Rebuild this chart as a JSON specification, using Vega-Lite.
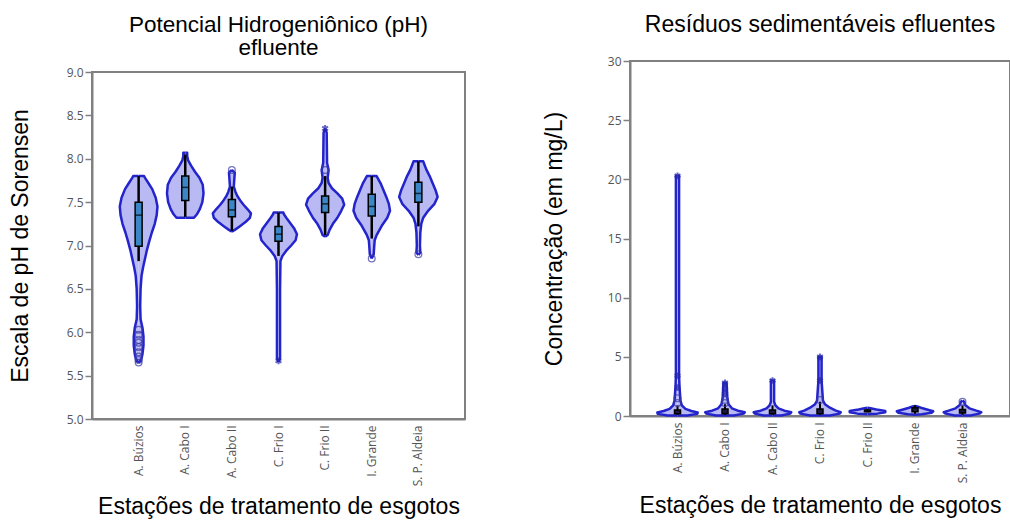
{
  "$schema": "https://vega.github.io/schema/vega-lite/v6.json",
  "background": "white",
  "padding": {"top": 13, "left": 8, "right": 0, "bottom": 0},
  "align": "none",
  "spacing": 76,
  "config": {
    "view": {"stroke": "#808080", "strokeWidth": 2},
    "font": "Liberation Sans",
    "axis": {"labelFont": "Open Sans", "labelColor": "#555555", "labelFontSize": 12, "titleFont": "Liberation Sans", "titleFontSize": 23, "titleFontWeight": "normal", "titleColor": "#000000", "domainColor": "#808080", "domainWidth": 2, "tickColor": "#808080", "tickWidth": 1.5, "grid": false},
    "title": {"font": "Liberation Sans", "fontSize": 23, "fontWeight": "normal", "color": "#000000"}
  },
  "datasets": {
    "ph_violin": [
      {"estacao": "A. Búzios", "k": 0, "ph": 5.65, "dens": 0},
      {"estacao": "A. Búzios", "k": 1, "ph": 5.68, "dens": 0.13},
      {"estacao": "A. Búzios", "k": 2, "ph": 5.75, "dens": 0.2},
      {"estacao": "A. Búzios", "k": 3, "ph": 5.85, "dens": 0.25},
      {"estacao": "A. Búzios", "k": 4, "ph": 5.95, "dens": 0.25},
      {"estacao": "A. Búzios", "k": 5, "ph": 6.05, "dens": 0.2},
      {"estacao": "A. Búzios", "k": 6, "ph": 6.15, "dens": 0.1},
      {"estacao": "A. Búzios", "k": 7, "ph": 6.3, "dens": 0.08},
      {"estacao": "A. Búzios", "k": 8, "ph": 6.5, "dens": 0.1},
      {"estacao": "A. Búzios", "k": 9, "ph": 6.65, "dens": 0.15},
      {"estacao": "A. Búzios", "k": 10, "ph": 6.75, "dens": 0.23},
      {"estacao": "A. Búzios", "k": 11, "ph": 6.85, "dens": 0.33},
      {"estacao": "A. Búzios", "k": 12, "ph": 6.95, "dens": 0.43},
      {"estacao": "A. Búzios", "k": 13, "ph": 7.05, "dens": 0.55},
      {"estacao": "A. Búzios", "k": 14, "ph": 7.15, "dens": 0.68},
      {"estacao": "A. Búzios", "k": 15, "ph": 7.25, "dens": 0.83},
      {"estacao": "A. Búzios", "k": 16, "ph": 7.35, "dens": 0.93},
      {"estacao": "A. Búzios", "k": 17, "ph": 7.45, "dens": 0.97},
      {"estacao": "A. Búzios", "k": 18, "ph": 7.55, "dens": 0.88},
      {"estacao": "A. Búzios", "k": 19, "ph": 7.65, "dens": 0.7},
      {"estacao": "A. Búzios", "k": 20, "ph": 7.72, "dens": 0.5},
      {"estacao": "A. Búzios", "k": 21, "ph": 7.78, "dens": 0.33},
      {"estacao": "A. Búzios", "k": 22, "ph": 7.8, "dens": 0.28},
      {"estacao": "A. Búzios", "k": 23, "ph": 7.8, "dens": 0},
      {"estacao": "A. Cabo I", "k": 0, "ph": 7.32, "dens": 0},
      {"estacao": "A. Cabo I", "k": 1, "ph": 7.32, "dens": 0.45},
      {"estacao": "A. Cabo I", "k": 2, "ph": 7.36, "dens": 0.6},
      {"estacao": "A. Cabo I", "k": 3, "ph": 7.42, "dens": 0.75},
      {"estacao": "A. Cabo I", "k": 4, "ph": 7.5, "dens": 0.88},
      {"estacao": "A. Cabo I", "k": 5, "ph": 7.6, "dens": 0.94},
      {"estacao": "A. Cabo I", "k": 6, "ph": 7.7, "dens": 0.9},
      {"estacao": "A. Cabo I", "k": 7, "ph": 7.78, "dens": 0.73},
      {"estacao": "A. Cabo I", "k": 8, "ph": 7.85, "dens": 0.5},
      {"estacao": "A. Cabo I", "k": 9, "ph": 7.92, "dens": 0.3},
      {"estacao": "A. Cabo I", "k": 10, "ph": 7.98, "dens": 0.15},
      {"estacao": "A. Cabo I", "k": 11, "ph": 8.03, "dens": 0.1},
      {"estacao": "A. Cabo I", "k": 12, "ph": 8.07, "dens": 0.1},
      {"estacao": "A. Cabo I", "k": 13, "ph": 8.07, "dens": 0},
      {"estacao": "A. Cabo II", "k": 0, "ph": 7.16, "dens": 0},
      {"estacao": "A. Cabo II", "k": 1, "ph": 7.18, "dens": 0.15},
      {"estacao": "A. Cabo II", "k": 2, "ph": 7.22, "dens": 0.4},
      {"estacao": "A. Cabo II", "k": 3, "ph": 7.27, "dens": 0.7},
      {"estacao": "A. Cabo II", "k": 4, "ph": 7.32, "dens": 0.93},
      {"estacao": "A. Cabo II", "k": 5, "ph": 7.37, "dens": 0.98},
      {"estacao": "A. Cabo II", "k": 6, "ph": 7.42, "dens": 0.8},
      {"estacao": "A. Cabo II", "k": 7, "ph": 7.47, "dens": 0.6},
      {"estacao": "A. Cabo II", "k": 8, "ph": 7.52, "dens": 0.43},
      {"estacao": "A. Cabo II", "k": 9, "ph": 7.57, "dens": 0.28},
      {"estacao": "A. Cabo II", "k": 10, "ph": 7.62, "dens": 0.18},
      {"estacao": "A. Cabo II", "k": 11, "ph": 7.68, "dens": 0.1},
      {"estacao": "A. Cabo II", "k": 12, "ph": 7.78, "dens": 0.13},
      {"estacao": "A. Cabo II", "k": 13, "ph": 7.84, "dens": 0.15},
      {"estacao": "A. Cabo II", "k": 14, "ph": 7.87, "dens": 0},
      {"estacao": "C. Frio I", "k": 0, "ph": 5.66, "dens": 0},
      {"estacao": "C. Frio I", "k": 1, "ph": 5.7, "dens": 0.08},
      {"estacao": "C. Frio I", "k": 2, "ph": 6.5, "dens": 0.08},
      {"estacao": "C. Frio I", "k": 3, "ph": 6.82, "dens": 0.1},
      {"estacao": "C. Frio I", "k": 4, "ph": 6.88, "dens": 0.2},
      {"estacao": "C. Frio I", "k": 5, "ph": 6.94, "dens": 0.4},
      {"estacao": "C. Frio I", "k": 6, "ph": 7.0, "dens": 0.65},
      {"estacao": "C. Frio I", "k": 7, "ph": 7.06, "dens": 0.88},
      {"estacao": "C. Frio I", "k": 8, "ph": 7.13, "dens": 0.95},
      {"estacao": "C. Frio I", "k": 9, "ph": 7.2, "dens": 0.8},
      {"estacao": "C. Frio I", "k": 10, "ph": 7.26, "dens": 0.6},
      {"estacao": "C. Frio I", "k": 11, "ph": 7.32, "dens": 0.4},
      {"estacao": "C. Frio I", "k": 12, "ph": 7.36, "dens": 0.28},
      {"estacao": "C. Frio I", "k": 13, "ph": 7.38, "dens": 0.25},
      {"estacao": "C. Frio I", "k": 14, "ph": 7.38, "dens": 0},
      {"estacao": "C. Frio II", "k": 0, "ph": 7.1, "dens": 0},
      {"estacao": "C. Frio II", "k": 1, "ph": 7.12, "dens": 0.13},
      {"estacao": "C. Frio II", "k": 2, "ph": 7.18, "dens": 0.23},
      {"estacao": "C. Frio II", "k": 3, "ph": 7.25, "dens": 0.4},
      {"estacao": "C. Frio II", "k": 4, "ph": 7.32, "dens": 0.63},
      {"estacao": "C. Frio II", "k": 5, "ph": 7.4, "dens": 0.83},
      {"estacao": "C. Frio II", "k": 6, "ph": 7.47, "dens": 0.98},
      {"estacao": "C. Frio II", "k": 7, "ph": 7.54, "dens": 0.88},
      {"estacao": "C. Frio II", "k": 8, "ph": 7.6, "dens": 0.63},
      {"estacao": "C. Frio II", "k": 9, "ph": 7.66, "dens": 0.35},
      {"estacao": "C. Frio II", "k": 10, "ph": 7.72, "dens": 0.18},
      {"estacao": "C. Frio II", "k": 11, "ph": 7.78, "dens": 0.13},
      {"estacao": "C. Frio II", "k": 12, "ph": 7.87, "dens": 0.18},
      {"estacao": "C. Frio II", "k": 13, "ph": 7.95, "dens": 0.1},
      {"estacao": "C. Frio II", "k": 14, "ph": 8.3, "dens": 0.08},
      {"estacao": "C. Frio II", "k": 15, "ph": 8.35, "dens": 0},
      {"estacao": "I. Grande", "k": 0, "ph": 6.85, "dens": 0},
      {"estacao": "I. Grande", "k": 1, "ph": 6.9, "dens": 0.1},
      {"estacao": "I. Grande", "k": 2, "ph": 7.0, "dens": 0.13},
      {"estacao": "I. Grande", "k": 3, "ph": 7.06, "dens": 0.15},
      {"estacao": "I. Grande", "k": 4, "ph": 7.12, "dens": 0.25},
      {"estacao": "I. Grande", "k": 5, "ph": 7.18, "dens": 0.4},
      {"estacao": "I. Grande", "k": 6, "ph": 7.24, "dens": 0.55},
      {"estacao": "I. Grande", "k": 7, "ph": 7.32, "dens": 0.8},
      {"estacao": "I. Grande", "k": 8, "ph": 7.4, "dens": 0.94},
      {"estacao": "I. Grande", "k": 9, "ph": 7.48, "dens": 0.88},
      {"estacao": "I. Grande", "k": 10, "ph": 7.56, "dens": 0.75},
      {"estacao": "I. Grande", "k": 11, "ph": 7.64, "dens": 0.6},
      {"estacao": "I. Grande", "k": 12, "ph": 7.72, "dens": 0.45},
      {"estacao": "I. Grande", "k": 13, "ph": 7.78, "dens": 0.3},
      {"estacao": "I. Grande", "k": 14, "ph": 7.8, "dens": 0.25},
      {"estacao": "I. Grande", "k": 15, "ph": 7.8, "dens": 0},
      {"estacao": "S. P. Aldeia", "k": 0, "ph": 6.89, "dens": 0},
      {"estacao": "S. P. Aldeia", "k": 1, "ph": 6.92, "dens": 0.1},
      {"estacao": "S. P. Aldeia", "k": 2, "ph": 7.0, "dens": 0.08},
      {"estacao": "S. P. Aldeia", "k": 3, "ph": 7.15, "dens": 0.1},
      {"estacao": "S. P. Aldeia", "k": 4, "ph": 7.25, "dens": 0.15},
      {"estacao": "S. P. Aldeia", "k": 5, "ph": 7.32, "dens": 0.25},
      {"estacao": "S. P. Aldeia", "k": 6, "ph": 7.4, "dens": 0.5},
      {"estacao": "S. P. Aldeia", "k": 7, "ph": 7.48, "dens": 0.83},
      {"estacao": "S. P. Aldeia", "k": 8, "ph": 7.56, "dens": 0.99},
      {"estacao": "S. P. Aldeia", "k": 9, "ph": 7.64, "dens": 0.88},
      {"estacao": "S. P. Aldeia", "k": 10, "ph": 7.72, "dens": 0.73},
      {"estacao": "S. P. Aldeia", "k": 11, "ph": 7.8, "dens": 0.58},
      {"estacao": "S. P. Aldeia", "k": 12, "ph": 7.88, "dens": 0.4},
      {"estacao": "S. P. Aldeia", "k": 13, "ph": 7.94, "dens": 0.3},
      {"estacao": "S. P. Aldeia", "k": 14, "ph": 7.97, "dens": 0.25},
      {"estacao": "S. P. Aldeia", "k": 15, "ph": 7.97, "dens": 0}
    ],
    "ph_box": [
      {"estacao": "A. Búzios", "wmin": 6.82, "q1": 6.99, "med": 7.35, "q3": 7.5, "wmax": 7.8},
      {"estacao": "A. Cabo I", "wmin": 7.33, "q1": 7.52, "med": 7.67, "q3": 7.8, "wmax": 8.05},
      {"estacao": "A. Cabo II", "wmin": 7.17, "q1": 7.33, "med": 7.41, "q3": 7.53, "wmax": 7.68},
      {"estacao": "C. Frio I", "wmin": 6.88, "q1": 7.05, "med": 7.13, "q3": 7.22, "wmax": 7.38},
      {"estacao": "C. Frio II", "wmin": 7.12, "q1": 7.38, "med": 7.48, "q3": 7.57, "wmax": 7.8},
      {"estacao": "I. Grande", "wmin": 7.08, "q1": 7.34, "med": 7.45, "q3": 7.59, "wmax": 7.8},
      {"estacao": "S. P. Aldeia", "wmin": 7.22, "q1": 7.5, "med": 7.6, "q3": 7.73, "wmax": 7.97}
    ],
    "ph_out": [
      {"estacao": "A. Búzios", "ph": 5.65, "tipo": "circulo"},
      {"estacao": "A. Búzios", "ph": 5.68, "tipo": "circulo"},
      {"estacao": "A. Búzios", "ph": 5.72, "tipo": "circulo"},
      {"estacao": "A. Búzios", "ph": 5.77, "tipo": "circulo"},
      {"estacao": "A. Búzios", "ph": 5.83, "tipo": "circulo"},
      {"estacao": "A. Búzios", "ph": 5.88, "tipo": "circulo"},
      {"estacao": "A. Búzios", "ph": 5.91, "tipo": "circulo"},
      {"estacao": "A. Búzios", "ph": 5.97, "tipo": "circulo"},
      {"estacao": "A. Búzios", "ph": 6.03, "tipo": "circulo"},
      {"estacao": "A. Cabo II", "ph": 7.87, "tipo": "circulo"},
      {"estacao": "C. Frio I", "ph": 5.67, "tipo": "asterisco"},
      {"estacao": "C. Frio II", "ph": 8.35, "tipo": "asterisco"},
      {"estacao": "C. Frio II", "ph": 7.87, "tipo": "circulo"},
      {"estacao": "I. Grande", "ph": 6.85, "tipo": "circulo"},
      {"estacao": "S. P. Aldeia", "ph": 6.9, "tipo": "circulo"}
    ],
    "res_violin": [
      {"estacao": "A. Búzios", "k": 0, "mg": 0.05, "dens": 0},
      {"estacao": "A. Búzios", "k": 1, "mg": 0.05, "dens": 0.5},
      {"estacao": "A. Búzios", "k": 2, "mg": 0.18, "dens": 1.0},
      {"estacao": "A. Búzios", "k": 3, "mg": 0.3, "dens": 1.02},
      {"estacao": "A. Búzios", "k": 4, "mg": 0.42, "dens": 0.7},
      {"estacao": "A. Búzios", "k": 5, "mg": 0.6, "dens": 0.4},
      {"estacao": "A. Búzios", "k": 6, "mg": 0.9, "dens": 0.22},
      {"estacao": "A. Búzios", "k": 7, "mg": 1.3, "dens": 0.15},
      {"estacao": "A. Búzios", "k": 8, "mg": 2.5, "dens": 0.1},
      {"estacao": "A. Búzios", "k": 9, "mg": 3.4, "dens": 0.08},
      {"estacao": "A. Búzios", "k": 10, "mg": 20.3, "dens": 0.08},
      {"estacao": "A. Búzios", "k": 11, "mg": 20.3, "dens": 0},
      {"estacao": "A. Cabo I", "k": 0, "mg": 0.05, "dens": 0},
      {"estacao": "A. Cabo I", "k": 1, "mg": 0.05, "dens": 0.45},
      {"estacao": "A. Cabo I", "k": 2, "mg": 0.2, "dens": 0.95},
      {"estacao": "A. Cabo I", "k": 3, "mg": 0.32, "dens": 1.0},
      {"estacao": "A. Cabo I", "k": 4, "mg": 0.45, "dens": 0.65},
      {"estacao": "A. Cabo I", "k": 5, "mg": 0.65, "dens": 0.35},
      {"estacao": "A. Cabo I", "k": 6, "mg": 1.0, "dens": 0.18},
      {"estacao": "A. Cabo I", "k": 7, "mg": 1.5, "dens": 0.12},
      {"estacao": "A. Cabo I", "k": 8, "mg": 2.8, "dens": 0.08},
      {"estacao": "A. Cabo I", "k": 9, "mg": 2.8, "dens": 0},
      {"estacao": "A. Cabo II", "k": 0, "mg": 0.05, "dens": 0},
      {"estacao": "A. Cabo II", "k": 1, "mg": 0.05, "dens": 0.45},
      {"estacao": "A. Cabo II", "k": 2, "mg": 0.2, "dens": 0.9},
      {"estacao": "A. Cabo II", "k": 3, "mg": 0.32, "dens": 0.95},
      {"estacao": "A. Cabo II", "k": 4, "mg": 0.45, "dens": 0.6},
      {"estacao": "A. Cabo II", "k": 5, "mg": 0.65, "dens": 0.3},
      {"estacao": "A. Cabo II", "k": 6, "mg": 0.9, "dens": 0.15},
      {"estacao": "A. Cabo II", "k": 7, "mg": 1.2, "dens": 0.08},
      {"estacao": "A. Cabo II", "k": 8, "mg": 3.0, "dens": 0.08},
      {"estacao": "A. Cabo II", "k": 9, "mg": 3.0, "dens": 0},
      {"estacao": "C. Frio I", "k": 0, "mg": 0.05, "dens": 0},
      {"estacao": "C. Frio I", "k": 1, "mg": 0.05, "dens": 0.5},
      {"estacao": "C. Frio I", "k": 2, "mg": 0.2, "dens": 1.0},
      {"estacao": "C. Frio I", "k": 3, "mg": 0.32, "dens": 1.05},
      {"estacao": "C. Frio I", "k": 4, "mg": 0.45, "dens": 0.8},
      {"estacao": "C. Frio I", "k": 5, "mg": 0.7, "dens": 0.5},
      {"estacao": "C. Frio I", "k": 6, "mg": 1.0, "dens": 0.25},
      {"estacao": "C. Frio I", "k": 7, "mg": 1.3, "dens": 0.15},
      {"estacao": "C. Frio I", "k": 8, "mg": 3.0, "dens": 0.08},
      {"estacao": "C. Frio I", "k": 9, "mg": 5.0, "dens": 0.08},
      {"estacao": "C. Frio I", "k": 10, "mg": 5.0, "dens": 0},
      {"estacao": "C. Frio II", "k": 0, "mg": 0.15, "dens": 0},
      {"estacao": "C. Frio II", "k": 1, "mg": 0.2, "dens": 0.5},
      {"estacao": "C. Frio II", "k": 2, "mg": 0.32, "dens": 0.9},
      {"estacao": "C. Frio II", "k": 3, "mg": 0.42, "dens": 0.9},
      {"estacao": "C. Frio II", "k": 4, "mg": 0.55, "dens": 0.45},
      {"estacao": "C. Frio II", "k": 5, "mg": 0.65, "dens": 0.15},
      {"estacao": "C. Frio II", "k": 6, "mg": 0.7, "dens": 0},
      {"estacao": "I. Grande", "k": 0, "mg": 0.1, "dens": 0},
      {"estacao": "I. Grande", "k": 1, "mg": 0.15, "dens": 0.35},
      {"estacao": "I. Grande", "k": 2, "mg": 0.28, "dens": 0.85},
      {"estacao": "I. Grande", "k": 3, "mg": 0.4, "dens": 0.92},
      {"estacao": "I. Grande", "k": 4, "mg": 0.55, "dens": 0.6},
      {"estacao": "I. Grande", "k": 5, "mg": 0.7, "dens": 0.3},
      {"estacao": "I. Grande", "k": 6, "mg": 0.8, "dens": 0.12},
      {"estacao": "I. Grande", "k": 7, "mg": 0.85, "dens": 0},
      {"estacao": "S. P. Aldeia", "k": 0, "mg": 0.05, "dens": 0},
      {"estacao": "S. P. Aldeia", "k": 1, "mg": 0.05, "dens": 0.4},
      {"estacao": "S. P. Aldeia", "k": 2, "mg": 0.2, "dens": 0.85},
      {"estacao": "S. P. Aldeia", "k": 3, "mg": 0.32, "dens": 0.95},
      {"estacao": "S. P. Aldeia", "k": 4, "mg": 0.45, "dens": 0.7},
      {"estacao": "S. P. Aldeia", "k": 5, "mg": 0.65, "dens": 0.35},
      {"estacao": "S. P. Aldeia", "k": 6, "mg": 0.9, "dens": 0.15},
      {"estacao": "S. P. Aldeia", "k": 7, "mg": 1.2, "dens": 0.08},
      {"estacao": "S. P. Aldeia", "k": 8, "mg": 1.3, "dens": 0}
    ],
    "res_box": [
      {"estacao": "A. Búzios", "wmin": 0.1, "q1": 0.2, "med": 0.3, "q3": 0.5, "wmax": 0.9},
      {"estacao": "A. Cabo I", "wmin": 0.1, "q1": 0.2, "med": 0.4, "q3": 0.6, "wmax": 1.0},
      {"estacao": "A. Cabo II", "wmin": 0.1, "q1": 0.2, "med": 0.3, "q3": 0.5, "wmax": 0.9},
      {"estacao": "C. Frio I", "wmin": 0.1, "q1": 0.2, "med": 0.35, "q3": 0.6, "wmax": 1.2},
      {"estacao": "C. Frio II", "wmin": 0.3, "q1": 0.35, "med": 0.4, "q3": 0.5, "wmax": 0.6},
      {"estacao": "I. Grande", "wmin": 0.2, "q1": 0.35, "med": 0.5, "q3": 0.7, "wmax": 0.9},
      {"estacao": "S. P. Aldeia", "wmin": 0.1, "q1": 0.25, "med": 0.35, "q3": 0.55, "wmax": 0.9}
    ],
    "res_out": [
      {"estacao": "A. Búzios", "mg": 20.3, "tipo": "asterisco"},
      {"estacao": "A. Búzios", "mg": 3.4, "tipo": "asterisco"},
      {"estacao": "A. Búzios", "mg": 2.4, "tipo": "asterisco"},
      {"estacao": "A. Búzios", "mg": 1.5, "tipo": "circulo"},
      {"estacao": "A. Búzios", "mg": 1.1, "tipo": "circulo"},
      {"estacao": "A. Cabo I", "mg": 2.8, "tipo": "asterisco"},
      {"estacao": "A. Cabo I", "mg": 2.35, "tipo": "asterisco"},
      {"estacao": "A. Cabo I", "mg": 1.9, "tipo": "asterisco"},
      {"estacao": "A. Cabo I", "mg": 1.35, "tipo": "circulo"},
      {"estacao": "A. Cabo I", "mg": 1.1, "tipo": "circulo"},
      {"estacao": "A. Cabo II", "mg": 3.0, "tipo": "asterisco"},
      {"estacao": "C. Frio I", "mg": 5.0, "tipo": "asterisco"},
      {"estacao": "C. Frio I", "mg": 3.0, "tipo": "asterisco"},
      {"estacao": "C. Frio I", "mg": 1.35, "tipo": "circulo"},
      {"estacao": "S. P. Aldeia", "mg": 1.2, "tipo": "circulo"}
    ]
  },
  "hconcat": [
    {
      "spacing": 3,
      "vconcat": [
        {
          "width": 373,
          "height": 1,
          "view": {"stroke": null},
          "title": {"text": ["Potencial Hidrogeniônico (pH)", "efluente"], "offset": 2, "lineHeight": 23, "fontSize": 22.5},
          "data": {"values": []},
          "mark": "point"
        },
        {
          "width": 373,
          "height": 347,
          "encoding": {
            "x": {"field": "estacao", "type": "nominal",
              "sort": ["A. Búzios", "A. Cabo I", "A. Cabo II", "C. Frio I", "C. Frio II", "I. Grande", "S. P. Aldeia"],
              "scale": {"type": "band", "paddingInner": 0, "paddingOuter": 0.5},
              "axis": {"title": "Estações de tratamento de esgotos", "labelAngle": -90, "ticks": false, "labelPadding": 6, "titlePadding": 10}}
          },
          "layer": [
            {
              "data": {"name": "ph_violin"},
              "mark": {"type": "line", "fill": "#b9b9f3", "stroke": "#2424cc", "strokeWidth": 2.5, "strokeJoin": "round"},
              "encoding": {
                "y": {"field": "ph", "type": "quantitative", "scale": {"domain": [5, 9], "nice": false, "zero": false},
                  "axis": {"title": "Escala de pH de Sorensen", "values": [5, 5.5, 6, 6.5, 7, 7.5, 8, 8.5, 9], "format": ".1f", "tickSize": 7, "labelPadding": 2, "titlePadding": 34}},
                "xOffset": {"field": "dens", "type": "quantitative", "scale": {"domain": [-1.2, 1.2], "range": [0, 46.625]}},
                "detail": {"field": "estacao"},
                "order": {"field": "k"}
              }
            },
            {
              "data": {"name": "ph_violin"},
              "mark": {"type": "line", "fill": "#b9b9f3", "stroke": "#2424cc", "strokeWidth": 2.5, "strokeJoin": "round"},
              "encoding": {
                "y": {"field": "ph", "type": "quantitative", "title": "Escala de pH de Sorensen"},
                "xOffset": {"field": "dens", "type": "quantitative", "scale": {"domain": [-1.2, 1.2], "range": [46.625, 0]}},
                "detail": {"field": "estacao"},
                "order": {"field": "k"}
              }
            },
            {
              "data": {"name": "ph_box"},
              "mark": {"type": "rule", "color": "#000000", "strokeWidth": 2.5},
              "encoding": {
                "y": {"field": "wmin", "type": "quantitative", "title": "Escala de pH de Sorensen"},
                "y2": {"field": "wmax"}
              }
            },
            {
              "data": {"name": "ph_box"},
              "mark": {"type": "bar", "width": 7, "fill": "#3a86c6", "stroke": "#000000", "strokeWidth": 1.5},
              "encoding": {
                "y": {"field": "q1", "type": "quantitative", "title": "Escala de pH de Sorensen"},
                "y2": {"field": "q3"}
              }
            },
            {
              "data": {"name": "ph_box"},
              "mark": {"type": "tick", "orient": "horizontal", "color": "#000000", "thickness": 1.5, "size": 7},
              "encoding": {
                "y": {"field": "med", "type": "quantitative", "title": "Escala de pH de Sorensen"}
              }
            },
            {
              "data": {"name": "ph_out"},
              "transform": [{"filter": "datum.tipo == 'circulo'"}],
              "mark": {"type": "point", "shape": "circle", "filled": false, "size": 45, "stroke": "#3a3aa8", "strokeWidth": 1.3},
              "encoding": {
                "y": {"field": "ph", "type": "quantitative", "title": "Escala de pH de Sorensen"}
              }
            },
            {
              "data": {"name": "ph_out"},
              "transform": [{"filter": "datum.tipo == 'asterisco'"}],
              "mark": {"type": "point", "shape": "M0,-1L0,1M-0.87,-0.5L0.87,0.5M-0.87,0.5L0.87,-0.5", "filled": false, "size": 45, "stroke": "#2424aa", "strokeWidth": 2},
              "encoding": {
                "y": {"field": "ph", "type": "quantitative", "title": "Escala de pH de Sorensen"}
              }
            }
          ],
          "resolve": {"scale": {"xOffset": "independent"}}
        }
      ]
    },
    {
      "width": 380,
      "height": 355,
      "title": {"text": "Resíduos sedimentáveis efluentes", "offset": 18},
      "encoding": {
        "x": {"field": "estacao", "type": "nominal",
          "sort": ["A. Búzios", "A. Cabo I", "A. Cabo II", "C. Frio I", "C. Frio II", "I. Grande", "S. P. Aldeia"],
          "scale": {"type": "band", "paddingInner": 0, "paddingOuter": 0.5},
          "axis": {"title": "Estações de tratamento de esgotos", "labelAngle": -90, "ticks": false, "labelPadding": 6, "titlePadding": 12}}
      },
      "layer": [
        {
          "data": {"name": "res_violin"},
          "mark": {"type": "line", "fill": "#b9b9f3", "stroke": "#2424cc", "strokeWidth": 2.5, "strokeJoin": "round"},
          "encoding": {
            "y": {"field": "mg", "type": "quantitative", "scale": {"domain": [0, 30], "nice": false},
              "axis": {"title": "Concentração (em mg/L)", "values": [0, 5, 10, 15, 20, 25, 30], "tickSize": 7, "labelPadding": 2, "titlePadding": 41}},
            "xOffset": {"field": "dens", "type": "quantitative", "scale": {"domain": [-1.2, 1.2], "range": [0, 47.5]}},
            "detail": {"field": "estacao"},
            "order": {"field": "k"}
          }
        },
        {
          "data": {"name": "res_violin"},
          "mark": {"type": "line", "fill": "#b9b9f3", "stroke": "#2424cc", "strokeWidth": 2.5, "strokeJoin": "round"},
          "encoding": {
            "y": {"field": "mg", "type": "quantitative", "title": "Concentração (em mg/L)"},
            "xOffset": {"field": "dens", "type": "quantitative", "scale": {"domain": [-1.2, 1.2], "range": [47.5, 0]}},
            "detail": {"field": "estacao"},
            "order": {"field": "k"}
          }
        },
        {
          "data": {"name": "res_box"},
          "mark": {"type": "rule", "color": "#000000", "strokeWidth": 2},
          "encoding": {
            "y": {"field": "wmin", "type": "quantitative", "title": "Concentração (em mg/L)"},
            "y2": {"field": "wmax"}
          }
        },
        {
          "data": {"name": "res_box"},
          "mark": {"type": "bar", "width": 6, "fill": "#1a1a40", "stroke": "#000000", "strokeWidth": 1.5},
          "encoding": {
            "y": {"field": "q1", "type": "quantitative", "title": "Concentração (em mg/L)"},
            "y2": {"field": "q3"}
          }
        },
        {
          "data": {"name": "res_out"},
          "transform": [{"filter": "datum.tipo == 'circulo'"}],
          "mark": {"type": "point", "shape": "circle", "filled": false, "size": 45, "stroke": "#3a3aa8", "strokeWidth": 1.3},
          "encoding": {
            "y": {"field": "mg", "type": "quantitative", "title": "Concentração (em mg/L)"}
          }
        },
        {
          "data": {"name": "res_out"},
          "transform": [{"filter": "datum.tipo == 'asterisco'"}],
          "mark": {"type": "point", "shape": "M0,-1L0,1M-0.87,-0.5L0.87,0.5M-0.87,0.5L0.87,-0.5", "filled": false, "size": 45, "stroke": "#2424aa", "strokeWidth": 2},
          "encoding": {
            "y": {"field": "mg", "type": "quantitative", "title": "Concentração (em mg/L)"}
          }
        }
      ],
      "resolve": {"scale": {"xOffset": "independent"}}
    }
  ]
}
